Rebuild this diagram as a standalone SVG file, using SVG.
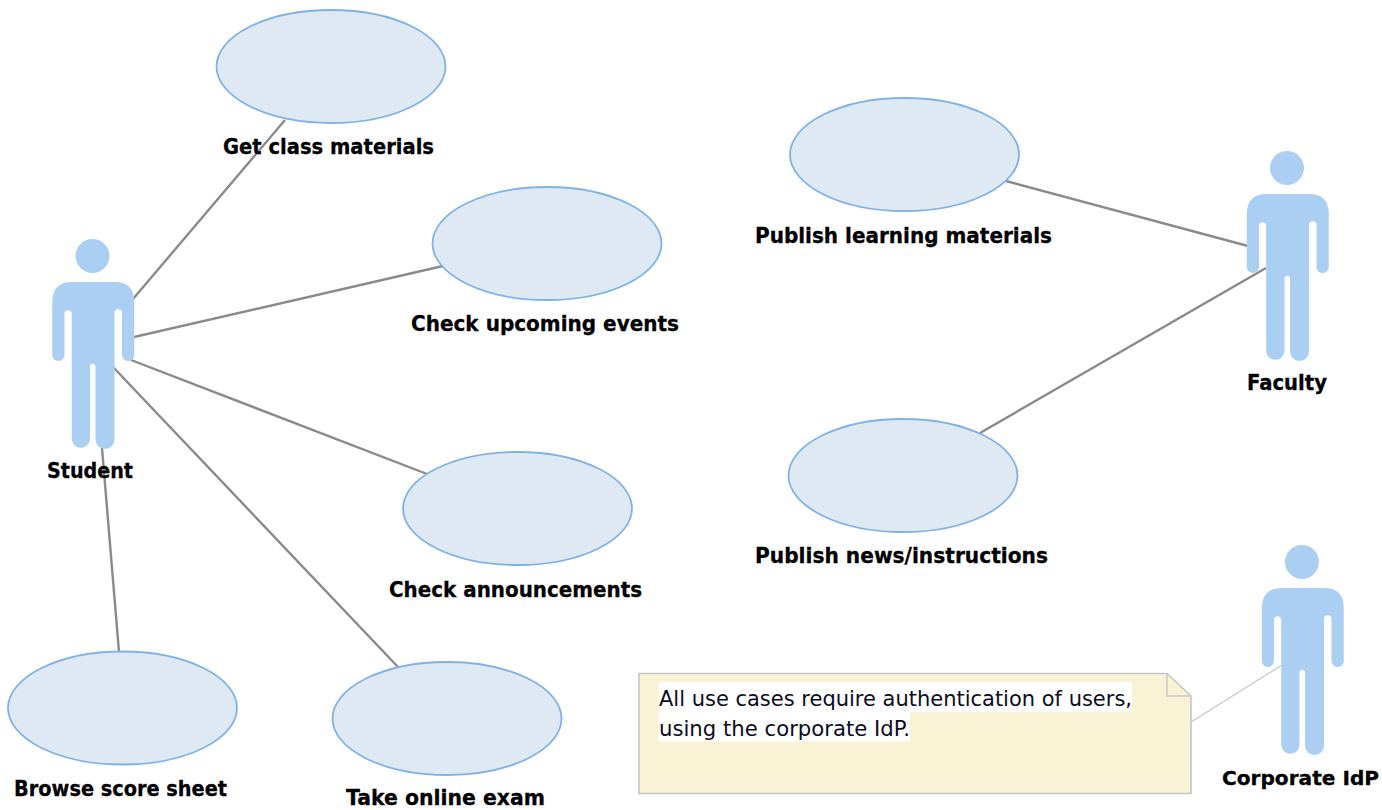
<svg xmlns="http://www.w3.org/2000/svg" width="1382" height="810" viewBox="0 0 1382 810">
<style>
.uc{fill:#dfe9f4;stroke:#7fb2e5;stroke-width:1.8}
.lbl{font-family:"DejaVu Sans","Liberation Sans",sans-serif;font-weight:bold;font-size:21px;fill:#000;stroke:#000;stroke-width:0.3}
.act{fill:#aacff2}
.ln{stroke:#8a8a8a;stroke-width:2.4;fill:none}
.note-txt{font-family:"DejaVu Sans","Liberation Sans",sans-serif;font-size:21px;fill:#0c0c20}
</style>
<defs>
<g id="actor">
<circle class="act" cx="92.5" cy="256" r="17"/>
<path class="act" d="M72 282H114.500Q134.300 282 134.300 302V355A6 6 0 0 1 122 355V313A3.700 3.700 0 0 0 114.500 313V439.500A9.500 9.500 0 0 1 95.500 439.500V366A2.800 2.800 0 0 0 90 366V439.500A9.200 9.200 0 0 1 71.700 439.500V313A3.700 3.700 0 0 0 64.500 313V355A6 6 0 0 1 52.300 355V302Q52.300 282 72 282Z"/>
</g>
</defs>
<g id="connectors">
<line class="ln" x1="133" y1="299" x2="285" y2="120"/>
<line class="ln" x1="134" y1="337" x2="443" y2="266"/>
<line class="ln" x1="131" y1="360" x2="427" y2="474"/>
<line class="ln" x1="113" y1="367" x2="398" y2="667"/>
<line class="ln" x1="102" y1="448" x2="119" y2="652"/>
<line class="ln" x1="1006" y1="181" x2="1248" y2="246"/>
<line class="ln" x1="980" y1="433" x2="1266" y2="268"/>
<line x1="1191" y1="722" x2="1282" y2="665" stroke="#c8c8c8" stroke-width="1.2"/>
</g>
<g id="uc-get-class"><ellipse class="uc" cx="331" cy="66.500" rx="114.500" ry="56.500"/><text class="lbl" x="223" y="154" textLength="211" lengthAdjust="spacingAndGlyphs">Get class materials</text></g>
<g id="uc-check-events"><ellipse class="uc" cx="547" cy="243.500" rx="114.500" ry="56.500"/><text class="lbl" x="411" y="331" textLength="268" lengthAdjust="spacingAndGlyphs">Check upcoming events</text></g>
<g id="uc-check-ann"><ellipse class="uc" cx="517.500" cy="508.500" rx="114.500" ry="56.500"/><text class="lbl" x="389" y="597" textLength="253" lengthAdjust="spacingAndGlyphs">Check announcements</text></g>
<g id="uc-browse"><ellipse class="uc" cx="122.500" cy="708" rx="114.500" ry="56.500"/><text class="lbl" x="14" y="796" textLength="213" lengthAdjust="spacingAndGlyphs">Browse score sheet</text></g>
<g id="uc-exam"><ellipse class="uc" cx="447" cy="718.500" rx="114.500" ry="56.500"/><text class="lbl" x="346" y="805" textLength="199" lengthAdjust="spacingAndGlyphs">Take online exam</text></g>
<g id="uc-publish-learning"><ellipse class="uc" cx="904.500" cy="154.500" rx="114.500" ry="56.500"/><text class="lbl" x="755" y="243" textLength="297" lengthAdjust="spacingAndGlyphs">Publish learning materials</text></g>
<g id="uc-publish-news"><ellipse class="uc" cx="903" cy="475.500" rx="114.500" ry="56.500"/><text class="lbl" x="755" y="563" textLength="293" lengthAdjust="spacingAndGlyphs">Publish news/instructions</text></g>
<g id="actor-student"><use href="#actor"/><text class="lbl" x="47" y="478" textLength="86" lengthAdjust="spacingAndGlyphs">Student</text></g>
<g id="actor-faculty"><use href="#actor" x="1194.500" y="-88"/><text class="lbl" x="1247" y="390" textLength="80" lengthAdjust="spacingAndGlyphs">Faculty</text></g>
<g id="actor-idp"><use href="#actor" x="1209.500" y="306"/><text class="lbl" x="1222" y="785" style="font-size:19.500px" textLength="157" lengthAdjust="spacingAndGlyphs">Corporate IdP</text></g>
<g id="note">
<path d="M639 673.500H1167L1191 696V793.500H639Z" fill="#f9f2d4" stroke="#c6c6c6" stroke-width="1.6"/>
<path d="M1167 673.500V696H1191" fill="none" stroke="#c6c6c6" stroke-width="1.4"/>
<rect x="658.500" y="682" width="473.500" height="30" fill="#fff"/>
<rect x="658.500" y="712" width="251.500" height="29.500" fill="#fff"/>
<text class="note-txt" x="659" y="706" textLength="473" lengthAdjust="spacingAndGlyphs">All use cases require authentication of users,</text>
<text class="note-txt" x="659" y="736" textLength="251" lengthAdjust="spacingAndGlyphs">using the corporate IdP.</text>
</g>
</svg>
